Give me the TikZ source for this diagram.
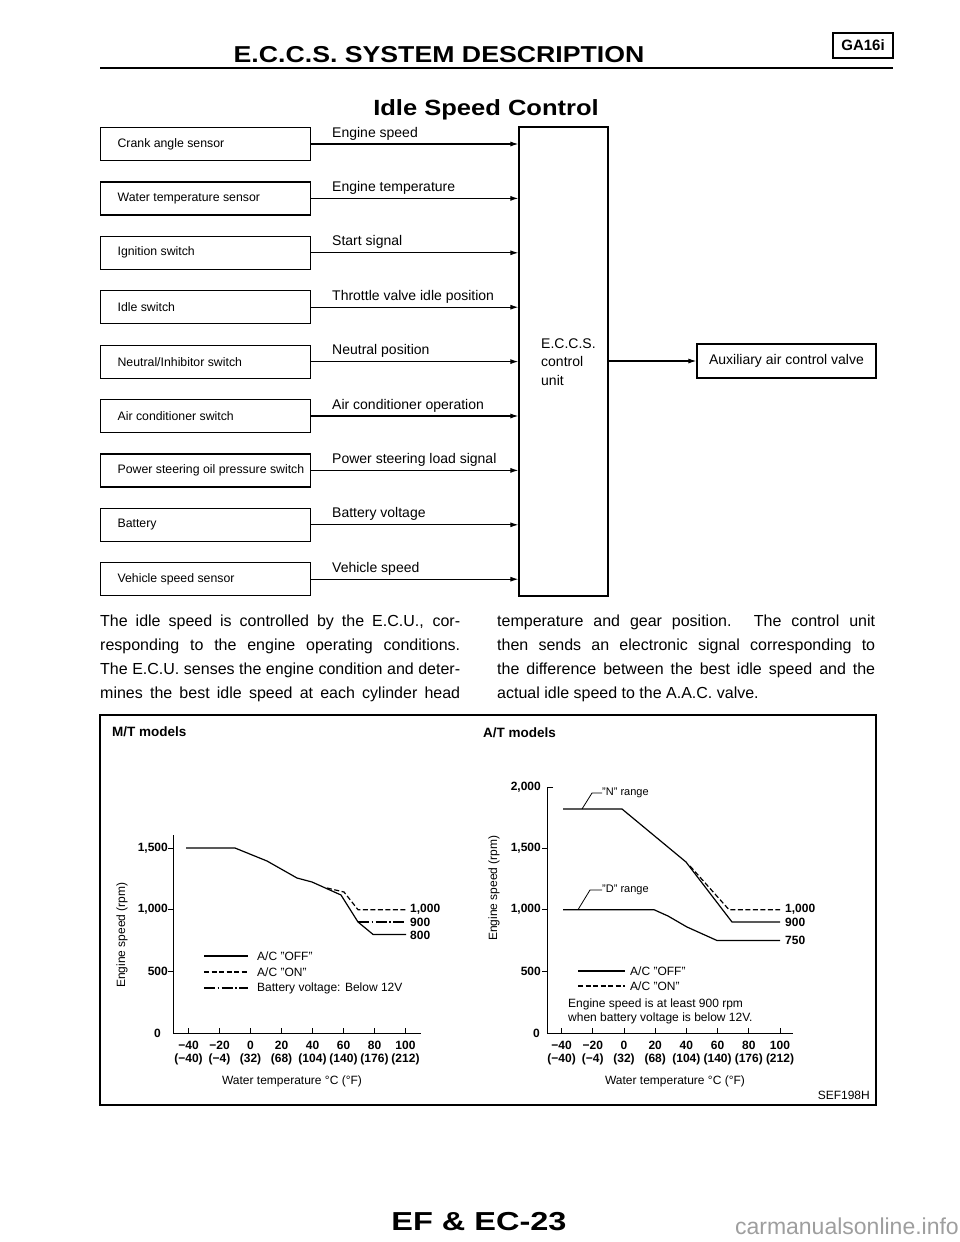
\documentclass[tikz,border=0pt]{standalone}
\usepackage{fontspec}
\setmainfont{Liberation Sans}
\newfontfamily\hdfont{Liberation Sans}[FakeStretch=1.16]
\newfontfamily\ftfont{Liberation Sans}[FakeStretch=1.25]
\usetikzlibrary{arrows.meta}
\begin{document}
\begin{tikzpicture}[x=1pt,y=-1pt,
  box/.style={draw, line width=1.2pt},
  sbox/.style={box, minimum height=33pt, inner xsep=17pt, inner ysep=0pt, anchor=west, font=\fontsize{12.3}{14}\selectfont},
  sig/.style={-{Latex[length=8pt,width=5pt]}, line width=1.1pt},
  lab/.style={inner sep=0pt, anchor=base west, font=\fontsize{14}{17}\selectfont},
  num/.style={inner sep=0pt, font=\bfseries\fontsize{12}{14}\selectfont},
  small/.style={inner sep=0pt, font=\fontsize{12}{14}\selectfont},
  para/.style={anchor=base west, inner sep=0pt, font=\fontsize{16}{20}\selectfont},
  curve/.style={line width=1.2pt, line join=round},
  ax/.style={line width=0.9pt},
  dsh/.style={dash pattern=on 5pt off 2.5pt},
  dd/.style={dash pattern=on 11pt off 2.5pt on 1.5pt off 2.5pt},
  lead/.style={line width=0.8pt}
]
\fill[white] (0,0) rectangle (960,1242);
\useasboundingbox (0,0) rectangle (960,1242);

% header
\node[inner sep=0pt, font=\hdfont\bfseries\fontsize{23}{27}\selectfont] (title) at (439,55) {E.C.C.S. SYSTEM DESCRIPTION};
\node[box, minimum width=60pt, minimum height=25pt, inner sep=0pt, font=\bfseries\fontsize{15}{18}\selectfont] (ga) at (863,45.5) {GA16i};
\draw[line width=2.8pt] (100,68) -- (893,68);
\node[inner sep=0pt, font=\hdfont\bfseries\fontsize{22}{26}\selectfont] (isc) at (486,110) {Idle Speed Control};

% input boxes
\node[sbox] (s1) at (100,144) {\makebox[176pt][l]{Crank angle sensor}};
\node[sbox] (s2) at (100,198.4) {\makebox[176pt][l]{Water temperature sensor}};
\node[sbox] (s3) at (100,252.8) {\makebox[176pt][l]{Ignition switch}};
\node[sbox] (s4) at (100,307.2) {\makebox[176pt][l]{Idle switch}};
\node[sbox] (s5) at (100,361.6) {\makebox[176pt][l]{Neutral/Inhibitor switch}};
\node[sbox] (s6) at (100,416) {\makebox[176pt][l]{Air conditioner switch}};
\node[sbox] (s7) at (100,470.4) {\makebox[176pt][l]{Power steering oil pressure switch}};
\node[sbox] (s8) at (100,524.8) {\makebox[176pt][l]{Battery}};
\node[sbox] (s9) at (100,579.2) {\makebox[176pt][l]{Vehicle speed sensor}};

% control unit
\node[box, minimum width=89pt, minimum height=469pt, inner sep=0pt] (ecu) at (563.5,361.5) {};
\node[inner sep=0pt, anchor=west, align=left, font=\fontsize{14}{18.5}\selectfont] (ecut) at (541,362) {E.C.C.S.\\control\\unit};
\node[box, minimum width=179pt, minimum height=34pt, inner sep=0pt, font=\fontsize{14}{17}\selectfont] (aux) at (786.5,361) {Auxiliary air control valve};

% signals
\foreach \n in {1,...,9} {\draw[sig] (s\n.east) -- (s\n.east -| ecu.west);}
\draw[sig] (ecu.east |- aux.west) -- (aux.west);
\node[lab] (l1) at (332,137) {Engine speed};
\node[lab] (l2) at (332,191.4) {Engine temperature};
\node[lab] (l3) at (332,245.8) {Start signal};
\node[lab] (l4) at (332,300.2) {Throttle valve idle position};
\node[lab] (l5) at (332,354.6) {Neutral position};
\node[lab] (l6) at (332,409) {Air conditioner operation};
\node[lab] (l7) at (332,463.4) {Power steering load signal};
\node[lab] (l8) at (332,517.8) {Battery voltage};
\node[lab] (l9) at (332,572.2) {Vehicle speed};

% paragraph
\node[para] (p1) at (100,626) {\makebox[360pt][s]{The idle speed is controlled by the E.C.U., cor-}};
\node[para] (p2) at (100,650) {\makebox[360pt][s]{responding to the engine operating conditions.}};
\node[para] (p3) at (100,674) {\makebox[360pt][s]{The E.C.U. senses the engine condition and deter-}};
\node[para] (p4) at (100,698) {\makebox[360pt][s]{mines the best idle speed at each cylinder head}};
\node[para] (p5) at (497,626) {\makebox[378pt][s]{temperature and gear position. The control unit}};
\node[para] (p6) at (497,650) {\makebox[378pt][s]{then sends an electronic signal corresponding to}};
\node[para] (p7) at (497,674) {\makebox[378pt][s]{the difference between the best idle speed and the}};
\node[para] (p8) at (497,698) {actual idle speed to the A.A.C. valve.};

% frame
\draw[line width=1.2pt] (100,715) rectangle (876,1105);
\node[inner sep=0pt, anchor=base west, font=\bfseries\fontsize{13.5}{16}\selectfont] (mt) at (112,736) {M/T models};
\node[inner sep=0pt, anchor=base west, font=\bfseries\fontsize{13.5}{16}\selectfont] (at) at (483,737) {A/T models};
\node[small, anchor=east] (sef) at (870,1095) {SEF198H};

% ---------- M/T graph ----------
\draw[ax] (173,835) -- (173,1033) -- (421,1033);
\foreach \t in {-40,-20,...,100} {\draw[ax] ({250.5+1.55*\t},1033) -- ++(0,-5);}
\foreach \r in {500,1000,1500} {\draw[ax] (173,{1033-0.1233*\r}) -- ++(-5,0);}
\node[num, anchor=east] (my1500) at (168,848) {1,500};
\node[num, anchor=east] (my1000) at (168,909.7) {1,000};
\node[num, anchor=east] (my500) at (168,971.4) {500};
\node[num, anchor=east] (my0) at (161,1033) {0};
\foreach \x/\a/\b [count=\k] in {188.5/−40/(−40),219.5/−20/(−4),250.5/0/(32),281.5/20/(68),312.5/40/(104),343.5/60/(140),374.5/80/(176),405.5/100/(212)} {
  \node[num] (mxa\k) at (\x,1045) {\a};
  \node[num] (mxb\k) at (\x,1059) {\b};
}
\node[small, rotate=90] (myl) at (122,935) {Engine speed (rpm)};
\node[small] (mwt) at (292,1081) {Water temperature °C (°F)};
\draw[curve] (186,848) -- (235,848) -- (267,861) -- (297,878) -- (312,882) -- (341,895) -- (358,922) -- (373,934.4) -- (406,934.4);
\draw[curve,dsh] (327,888) -- (344,892) -- (358,909.7) -- (406,909.7);
\draw[curve,dd] (358,922) -- (406,922);
\node[num, anchor=west] (mv1000) at (410,909.7) {1,000};
\node[num, anchor=west] (mv900) at (410,922) {900};
\node[num, anchor=west] (mv800) at (410,935) {800};
\draw[curve] (204,956) -- (248,956);
\draw[curve,dsh] (204,972) -- (248,972);
\draw[curve,dd] (204,988) -- (248,988);
\node[small, anchor=west] (mlg1) at (257,956) {A/C ”OFF”};
\node[small, anchor=west] (mlg2) at (257,972) {A/C ”ON”};
\node[small, anchor=west] (mlg3) at (257,988) {Battery voltage: Below 12V};

% ---------- A/T graph ----------
\draw[ax] (553,787) -- (547,787) -- (547,1033) -- (793,1033);
\foreach \t in {-40,-20,...,100} {\draw[ax] ({624+1.56*\t},1033) -- ++(0,-5);}
\foreach \r in {500,1000,1500} {\draw[ax] (547,{1033-0.1233*\r}) -- ++(-5,0);}
\node[num, anchor=east] (ay2000) at (541,787) {2,000};
\node[num, anchor=east] (ay1500) at (541,848) {1,500};
\node[num, anchor=east] (ay1000) at (541,909.7) {1,000};
\node[num, anchor=east] (ay500) at (541,971.4) {500};
\node[num, anchor=east] (ay0) at (540,1033) {0};
\foreach \x/\a/\b [count=\k] in {561.6/−40/(−40),592.8/−20/(−4),624/0/(32),655.2/20/(68),686.4/40/(104),717.6/60/(140),748.8/80/(176),780/100/(212)} {
  \node[num] (axa\k) at (\x,1045) {\a};
  \node[num] (axb\k) at (\x,1059) {\b};
}
\node[small, rotate=90] (ayl) at (494,888) {Engine speed (rpm)};
\node[small] (awt) at (675,1081) {Water temperature °C (°F)};
\draw[curve] (563,809) -- (622,809) -- (686,862) -- (732,922) -- (780,922);
\draw[curve,dsh] (690,866) -- (729,909.7) -- (780,909.7);
\draw[curve] (563,909.7) -- (654,909.7) -- (668,916) -- (687,927) -- (717,940.5) -- (780,940.5);
\node[num, anchor=west] (av1000) at (785,909) {1,000};
\node[num, anchor=west] (av900) at (785,922) {900};
\node[num, anchor=west] (av750) at (785,940.5) {750};
\coordinate (nlead) at (582,809);
\coordinate (dlead) at (578,909.7);
\node[inner sep=0pt, anchor=west, font=\fontsize{11}{13}\selectfont] (nr) at (602,793) {”N” range};
\node[inner sep=0pt, anchor=west, font=\fontsize{11}{13}\selectfont] (dr) at (602,890) {”D” range};
\draw[lead] (nlead) -- (592,793) -- (nr.west);
\draw[lead] (dlead) -- (590,890) -- (dr.west);
\draw[curve] (578,971) -- (625,971);
\draw[curve,dsh] (578,986) -- (625,986);
\node[small, anchor=west] (alg1) at (630,971) {A/C ”OFF”};
\node[small, anchor=west] (alg2) at (630,986) {A/C ”ON”};
\node[small, anchor=base west] (anote1) at (568,1007) {Engine speed is at least 900 rpm};
\node[small, anchor=base west] (anote2) at (568,1021) {when battery voltage is below 12V.};

% footer
\node[inner sep=0pt, font=\ftfont\bfseries\fontsize{26}{30}\selectfont] (page) at (479,1222) {EF \& EC-23};
\node[inner sep=0pt, anchor=east, text=black!38, font=\fontsize{23}{27}\selectfont] (wm) at (959,1226) {carmanualsonline.info};
\end{tikzpicture}
\end{document}
